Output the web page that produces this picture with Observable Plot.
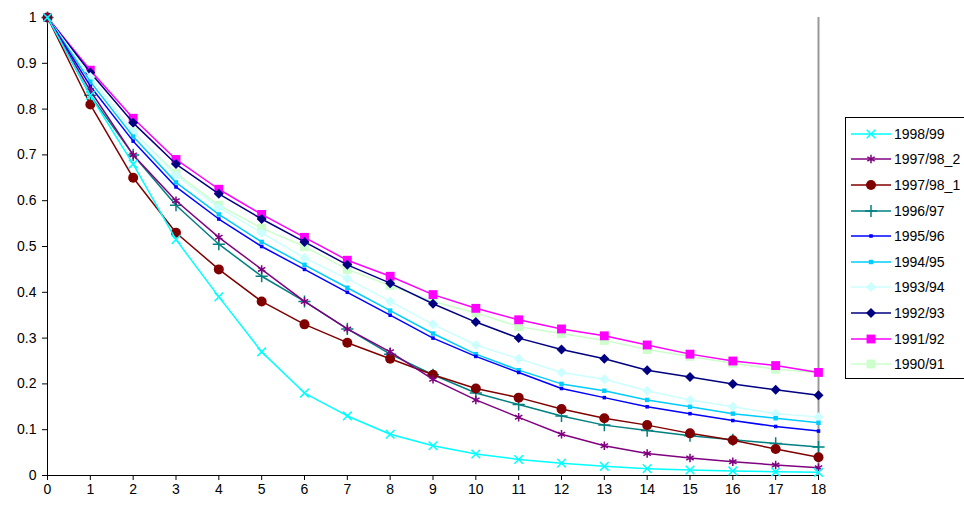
<!DOCTYPE html>
<html><head><meta charset="utf-8">
<script src="https://cdn.jsdelivr.net/npm/d3@7"></script>
<script src="https://cdn.jsdelivr.net/npm/@observablehq/plot@0.6"></script>
<style>
body{margin:0;background:#fff;font-family:"Liberation Sans",Arial,sans-serif}
#wrap{position:relative;width:964px;height:510px;overflow:hidden}
#legend{position:absolute;left:845px;top:117px;width:125px;border:1px solid #000;background:#fff;padding:3px 0 1px 5px;font-size:14px}
#legend div{display:flex;align-items:center;height:25.6px;white-space:nowrap}
#legend svg{margin-right:3px}
</style></head><body>
<div id="wrap"><div id="chart"></div><div id="legend"></div></div>
<script>
const years = d3.range(0, 19);
const seriesNames = ["1998/99","1997/98_2","1997/98_1","1996/97","1995/96","1994/95","1993/94","1992/93","1991/92","1990/91"];
const s1998 = [1,.83,.68,.515,.39,.27,.18,.13,.09,.065,.047,.035,.027,.02,.015,.012,.01,.008,.007];
const s1997b = [1,.84,.70,.60,.52,.45,.38,.32,.27,.21,.165,.127,.09,.065,.048,.038,.03,.023,.017];
const s1997a = [1,.81,.65,.53,.45,.38,.33,.29,.255,.22,.19,.17,.145,.125,.11,.092,.077,.058,.04];
const s1996 = [1,.83,.70,.59,.505,.435,.38,.32,.265,.22,.18,.155,.13,.11,.098,.087,.078,.07,.062];
const s1995 = [1,.85,.73,.63,.56,.50,.45,.40,.35,.30,.26,.225,.19,.17,.15,.135,.12,.107,.097];
const s1994 = [1,.86,.74,.64,.57,.51,.46,.41,.36,.31,.265,.23,.20,.185,.165,.15,.135,.125,.115];
const s1993 = [1,.87,.75,.655,.585,.53,.475,.43,.38,.33,.285,.255,.225,.21,.185,.165,.15,.135,.128];
const s1992 = [1,.88,.77,.68,.615,.56,.51,.46,.42,.375,.335,.30,.275,.255,.23,.215,.20,.187,.175];
const s1991 = [1,.885,.78,.69,.625,.57,.52,.47,.435,.395,.365,.34,.32,.305,.285,.265,.25,.24,.225];
const s1990 = [1,.87,.75,.66,.59,.54,.50,.45,.415,.38,.355,.325,.31,.295,.275,.26,.245,.232,.225];
const seriesValues = [s1998,s1997b,s1997a,s1996,s1995,s1994,s1993,s1992,s1991,s1990];
const colors = ["#00ffff","#800080","#800000","#008080","#0000ff","#00ccff","#ccffff","#000080","#ff00ff","#ccffcc"];
const symbols = ["times","asterisk","circle","plus","square","square","diamond2","diamond2","square","square"];
const sizes = [4,4,5,4,2,2.5,4.5,4.5,5,5];

const openSym = s => s === "times" || s === "asterisk" || s === "plus";

// draw in reverse so 1998/99 ends on top like the original
const order = d3.range(seriesNames.length).reverse();
const marks = [];
for (const i of order) {
  const rows = years.map((x, j) => ({x, y: seriesValues[i][j]}));
  marks.push(Plot.line(rows, {x: "x", y: "y", stroke: colors[i], strokeWidth: 1.5}));
  const filled = !openSym(symbols[i]);
  marks.push(Plot.dot(rows, {x: "x", y: "y", symbol: () => symbols[i], r: sizes[i],
    fill: filled ? colors[i] : "none", stroke: colors[i], strokeWidth: filled ? 0 : 1.5}));
}

const fig = Plot.plot({
  width: 964, height: 510,
  marginLeft: 47, marginRight: 146, marginTop: 17, marginBottom: 35,
  style: {fontFamily: "Liberation Sans, Arial, sans-serif", fontSize: "14px", color: "#000"},
  x: {domain: [0, 18], ticks: years, tickSize: 5, tickPadding: 4, label: null},
  y: {domain: [0, 1], ticks: d3.range(0, 1.01, 0.1), tickFormat: d => +d.toFixed(1), tickSize: 5, tickPadding: 6, label: null},
  marks: [
    Plot.ruleX([18], {stroke: "#999", strokeWidth: 2}),
    Plot.ruleY([0], {stroke: "#000"}),
    Plot.ruleX([0], {stroke: "#000"}),
    ...marks
  ]
});
document.getElementById("chart").append(fig);

const symMap = {times: d3.symbolTimes, asterisk: d3.symbolAsterisk, circle: d3.symbolCircle, plus: d3.symbolPlus, square: d3.symbolSquare, diamond2: d3.symbolDiamond2};
const leg = d3.select("#legend");
seriesNames.forEach((name, i) => {
  const row = leg.append("div");
  const svg = row.append("svg").attr("width", 40).attr("height", 14);
  svg.append("line").attr("x1", 0).attr("x2", 40).attr("y1", 7).attr("y2", 7).attr("stroke", colors[i]).attr("stroke-width", 1.5);
  const filled = !openSym(symbols[i]);
  svg.append("path").attr("transform", "translate(20,7)")
    .attr("d", d3.symbol(symMap[symbols[i]], Math.PI * sizes[i] * sizes[i])())
    .attr("fill", filled ? colors[i] : "none").attr("stroke", filled ? "none" : colors[i]).attr("stroke-width", 1.5);
  row.append("span").text(name);
});
</script></body></html>
